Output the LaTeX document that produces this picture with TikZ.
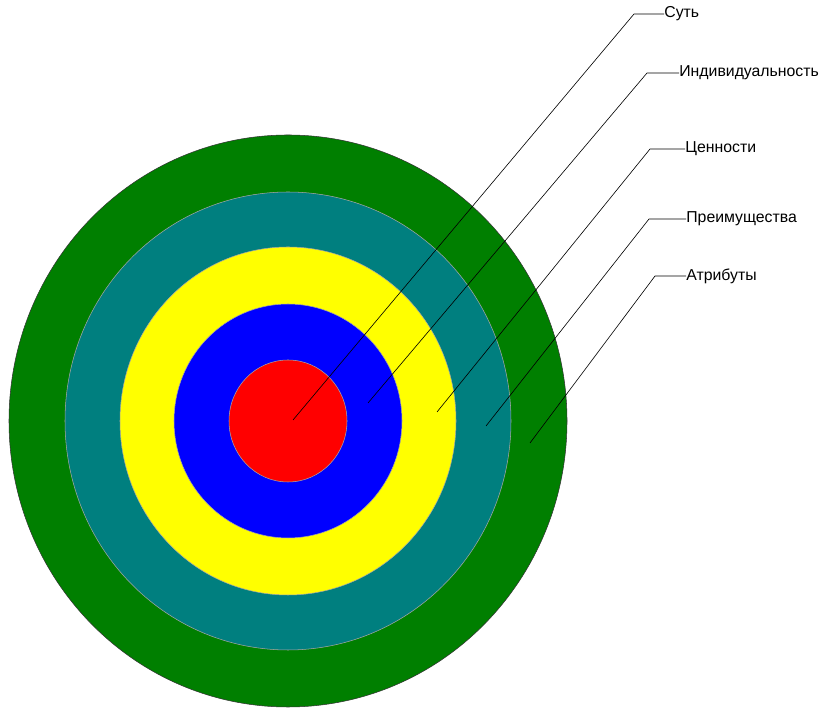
\documentclass[tikz,border=0pt]{standalone}
\usepackage{fontspec}
\setmainfont{Liberation Sans}
\usetikzlibrary{positioning, calc}
\definecolor{ringGreen}{HTML}{007F00}
\definecolor{ringTeal}{HTML}{007F7F}
\definecolor{ringYellow}{HTML}{FFFF00}
\definecolor{ringBlue}{HTML}{0000FF}
\definecolor{ringRed}{HTML}{FF0000}

\begin{document}
\begin{tikzpicture}[
    x=0.02cm, y=0.02cm,
    ring/.style={draw=gray!70, line width=0.3pt},
    lbl/.style={anchor=west, inner sep=0pt, font=\fontsize{9}{10}\selectfont},
    leader/.style={draw=black, line width=0.35pt},
  ]
    \useasboundingbox (0,0) rectangle (821,709);

    \coordinate (c) at (288,288);
    \fill[ringGreen, ring, draw=gray!40!black] (c) ellipse [x radius=279, y radius=286];
    \fill[ringTeal, ring] (c) ellipse [x radius=223, y radius=229];
    \fill[ringYellow, ring] (c) ellipse [x radius=168, y radius=174];
    \fill[ringBlue, ring] (c) ellipse [x radius=114, y radius=117];
    \fill[ringRed, ring] (c) ellipse [x radius=59, y radius=61];

    \node[lbl] (sut) at (664,695) {Суть};
    \node[lbl] (ind) at (679,636) {Индивидуальность};
    \node[lbl] (cen) at (685,560) {Ценности};
    \node[lbl] (pre) at (686,490) {Преимущества};
    \node[lbl] (atr) at (686,433) {Атрибуты};

    \coordinate (sut0) at (293,289);
    \coordinate (ind0) at (368,306);
    \coordinate (cen0) at (437,297);
    \coordinate (pre0) at (486,283);
    \coordinate (atr0) at (530,266);

    \draw[leader] (sut0) -- (634,695) -- (sut.west);
    \draw[leader] (ind0) -- (647,636) -- (ind.west);
    \draw[leader] (cen0) -- (650,560) -- (cen.west);
    \draw[leader] (pre0) -- (649,490) -- (pre.west);
    \draw[leader] (atr0) -- (655,433) -- (atr.west);
  \end{tikzpicture}
\end{document}
